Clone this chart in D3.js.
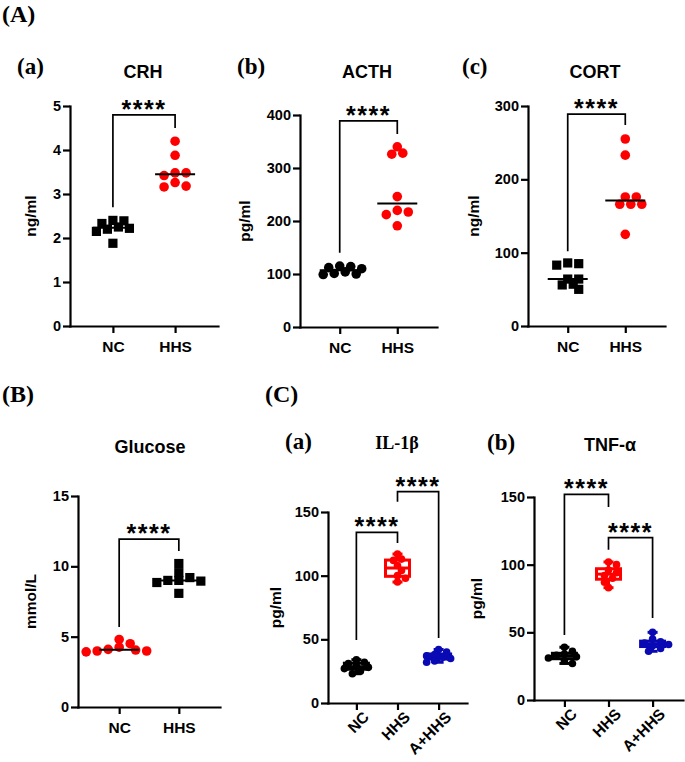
<!DOCTYPE html>
<html>
<head>
<meta charset="utf-8">
<script src="https://cdn.jsdelivr.net/npm/d3@7"></script>
<style>
  body { margin: 0; background: #fff; }
  text { font-family: "Liberation Sans", Arial, sans-serif; font-weight: 700; fill: #000; }
  .serif { font-family: "Liberation Serif", "Times New Roman", serif; }
</style>
</head>
<body>
<svg id="fig" width="685" height="762"></svg>
<script>
// ---- data ----
const groups2 = ["NC", "HHS"];
const groups3 = ["NC", "HHS", "A+HHS"];

const crhNC = [2.39, 2.33, 2.15, 1.88, 2.22, 2.2, 2.25, 2.4];
const crhHHS = [4.2, 3.88, 3.48, 3.48, 3.42, 3.26, 3.16, 3.18];

const acthNC = [100, 112, 115, 104, 99, 114, 101, 110];
const acthHHS = [340, 326, 328, 246, 220, 212, 217, 191];

const cortNC = [83, 86, 85, 64, 64, 56, 57, 50];
const cortHHS = [255, 233, 176, 176, 166, 166, 166, 125];

const gluNC = [4.8, 4.5, 4.25, 4.05, 3.92, 4.1, 3.98, 3.98];
const gluHHS = [10.2, 9.55, 9.2, 9.0, 9.0, 8.95, 8.85, 8.08];

const il1bNC = [34, 32, 31, 29, 28, 27, 25, 23];
const il1bHHS = [117, 113, 112, 108, 104, 100, 98, 95];
const il1bAHHS = [42, 40, 38, 37, 36, 35, 33, 32];

const tnfNC = [39, 36, 34, 33, 32, 31, 29, 27];
const tnfHHS = [102, 100, 96, 94, 92, 90, 87, 83];
const tnfAHHS = [50, 45, 43, 42, 41, 40, 38, 36];

const RED = "#ff0000", BLACK = "#000000", BLUE = "#0a0ab4";

// ---- panel layout ----
const panels = [
  { title: "CRH", letter: "(a)", letterX: 17, titleX: 143, titleY: 78, letterY: 74,
    ylabel: "ng/ml", ylabelX: 36, x0: 70, x1: 218, yb: 326, yt: 106, max: 5, ticks: [0,1,2,3,4,5],
    type: "dot", groups: groups2, values: [crhNC, crhHHS], colors: [BLACK, RED], shapes: ["square", "circle"],
    brackets: [{ a: 0, b: 1, top: 4.8, la: 2.7, lb: 4.5 }] },
  { title: "ACTH", letter: "(b)", letterX: 237, titleX: 367, titleY: 78, letterY: 74,
    ylabel: "pg/ml", ylabelX: 250, x0: 300, x1: 437, yb: 327, yt: 115, max: 400, ticks: [0,100,200,300,400],
    type: "dot", groups: groups2, values: [acthNC, acthHHS], colors: [BLACK, RED], shapes: ["circle", "circle"],
    brackets: [{ a: 0, b: 1, top: 389, la: 140, lb: 364 }] },
  { title: "CORT", letter: "(c)", letterX: 462, titleX: 595, titleY: 78, letterY: 74,
    ylabel: "ng/ml", ylabelX: 479, x0: 528, x1: 665, yb: 326, yt: 106, max: 300, ticks: [0,100,200,300],
    type: "dot", groups: groups2, values: [cortNC, cortHHS], colors: [BLACK, RED], shapes: ["square", "circle"],
    brackets: [{ a: 0, b: 1, top: 289, la: 102, lb: 274 }] },
  { title: "Glucose", letter: null, titleX: 150, titleY: 453,
    ylabel: "mmol/L", ylabelX: 36, x0: 78, x1: 220, yb: 707, yt: 496, max: 15, ticks: [0,5,10,15],
    type: "dot", groups: groups2, values: [gluNC, gluHHS], colors: [RED, BLACK], shapes: ["circle", "square"],
    brackets: [{ a: 0, b: 1, top: 11.94, la: 5.69, lb: 11.09 }] },
  { title: "IL-1β", serifTitle: true, letter: "(a)", letterX: 285, titleX: 397, titleY: 449, letterY: 449,
    ylabel: "pg/ml", ylabelX: 281, x0: 328, x1: 467, yb: 703, yt: 512, max: 150, ticks: [0,50,100,150],
    type: "box", groups: groups3, values: [il1bNC, il1bHHS, il1bAHHS], colors: [BLACK, RED, BLUE],
    brackets: [{ a: 0, b: 1, top: 134, la: 49.5, lb: 125.6 }, { a: 1, b: 2, top: 166, la: 158, lb: 51 }] },
  { title: "TNF-α", letter: "(b)", letterX: 487, titleX: 610, titleY: 451, letterY: 450,
    ylabel: "pg/ml", ylabelX: 482, x0: 534, x1: 683, yb: 700, yt: 497, max: 150, ticks: [0,50,100,150],
    type: "box", groups: groups3, values: [tnfNC, tnfHHS, tnfAHHS], colors: [BLACK, RED, BLUE],
    brackets: [{ a: 0, b: 1, top: 152, la: 48, lb: 142.6 }, { a: 1, b: 2, top: 120, la: 111, lb: 60.6 }] }
];

const svg = d3.select("#fig");
svg.append("rect").attr("width", 685).attr("height", 762).attr("fill", "#fff");

// section letters
[["(A)", 2, 22], ["(B)", 2, 402], ["(C)", 265, 402]].forEach(([t, x, y]) => {
  svg.append("text").attr("class", "serif").attr("x", x).attr("y", y)
    .attr("font-size", 24).attr("fill", "#141428").text(t);
});

// greedy beeswarm: offsets in pixels
function dodge(vals, y, step, minDist) {
  const placed = [], out = new Array(vals.length);
  const order = vals.map((v, i) => i).sort((a, b) => vals[b] - vals[a]);
  order.forEach(i => {
    const py = y(vals[i]);
    for (let k = 0; k < 40; k++) {
      const dx = k === 0 ? 0 : (k % 2 ? 1 : -1) * Math.ceil(k / 2) * step;
      if (placed.every(p => Math.hypot(p.dx - dx, p.py - py) >= minDist)) {
        placed.push({ dx, py }); out[i] = { v: vals[i], dx }; break;
      }
    }
  });
  return out;
}

panels.forEach(p => {
  const g = svg.append("g");
  const y = d3.scaleLinear().domain([0, p.max]).range([p.yb, p.yt]);
  const x = d3.scalePoint().domain(p.groups).range([p.x0, p.x1]).padding(0.69);

  // title and letter
  g.append("text").attr("x", p.titleX).attr("y", p.titleY).attr("text-anchor", "middle")
    .attr("class", p.serifTitle ? "serif" : null)
    .attr("font-size", 18).text(p.title);
  if (p.letter) {
    g.append("text").attr("class", "serif").attr("x", p.letterX).attr("y", p.letterY)
      .attr("font-size", 23).attr("fill", "#141428").text(p.letter);
  }

  // axes
  const ya = g.append("g").attr("transform", `translate(${p.x0},0)`)
    .call(d3.axisLeft(y).tickValues(p.ticks).tickFormat(d3.format("d"))
      .tickSize(7).tickSizeOuter(0).tickPadding(2));
  ya.selectAll("text").attr("font-size", 14.5).attr("font-family", null);
  const xa = g.append("g").attr("transform", `translate(0,${p.yb})`)
    .call(d3.axisBottom(x).tickSize(7).tickSizeOuter(0).tickPadding(p.type === "box" ? 4 : 8));
  xa.selectAll("text").attr("font-size", 15.5).attr("font-family", null);
  if (p.type === "box") {
    xa.selectAll("text").attr("text-anchor", "end").attr("dy", "0.35em")
      .attr("transform", "translate(5,7) rotate(-45)").attr("y", 6).attr("x", 0);
  }
  g.selectAll(".domain, .tick line").attr("stroke", "#000").attr("stroke-width", 2.2);
  g.selectAll(".domain").attr("stroke-linecap", "square");

  // y label
  g.append("text").attr("transform", `translate(${p.ylabelX},${(p.yb + p.yt) / 2}) rotate(-90)`)
    .attr("text-anchor", "middle").attr("font-size", 15.5).text(p.ylabel);

  // data
  p.groups.forEach((grp, gi) => {
    const vals = p.values[gi], col = p.colors[gi], cx = x(grp);
    if (p.type === "dot") {
      const pts = dodge(vals, y, 5.5, 7.5);
      const med = d3.median(vals);
      pts.forEach(d => {
        if (p.shapes[gi] === "square") {
          g.append("rect").attr("x", cx + d.dx - 4.6).attr("y", y(d.v) - 4.6)
            .attr("width", 9.2).attr("height", 9.2).attr("fill", col);
        } else {
          g.append("circle").attr("cx", cx + d.dx).attr("cy", y(d.v)).attr("r", 4.8).attr("fill", col);
        }
      });
      g.append("line").attr("x1", cx - 20).attr("x2", cx + 20)
        .attr("y1", y(med)).attr("y2", y(med)).attr("stroke", "#000").attr("stroke-width", 2);
    } else {
      const s = vals.slice().sort(d3.ascending);
      const q1 = d3.quantile(s, 0.25), q3 = d3.quantile(s, 0.75), med = d3.median(s);
      const lo = s[0], hi = s[s.length - 1], hw = 12;
      const bg = g.append("g").attr("stroke", col).attr("stroke-width", 3).attr("fill", "none");
      bg.append("line").attr("x1", cx).attr("x2", cx).attr("y1", y(hi)).attr("y2", y(q3));
      bg.append("line").attr("x1", cx).attr("x2", cx).attr("y1", y(q1)).attr("y2", y(lo));
      bg.append("line").attr("x1", cx - 5).attr("x2", cx + 5).attr("y1", y(hi)).attr("y2", y(hi));
      bg.append("line").attr("x1", cx - 5).attr("x2", cx + 5).attr("y1", y(lo)).attr("y2", y(lo));
      bg.append("rect").attr("x", cx - hw).attr("y", y(q3)).attr("width", 2 * hw).attr("height", y(q1) - y(q3));
      bg.append("line").attr("x1", cx - hw).attr("x2", cx + hw).attr("y1", y(med)).attr("y2", y(med));
      const pts = dodge(vals, y, 4, 6);
      pts.forEach(d => {
        g.append("circle").attr("cx", cx + d.dx).attr("cy", y(d.v)).attr("r", 3.8).attr("fill", col);
      });
    }
  });

  // significance brackets
  p.brackets.forEach(b => {
    const xa_ = x(p.groups[b.a]), xb_ = x(p.groups[b.b]);
    g.append("path").attr("fill", "none").attr("stroke", "#000").attr("stroke-width", 1.7)
      .attr("d", `M${xa_},${y(b.la)}V${y(b.top)}H${xb_}V${y(b.lb)}`);
    g.append("text").attr("x", (xa_ + xb_) / 2).attr("y", y(b.top) + 3).attr("text-anchor", "middle")
      .attr("font-size", 25).attr("letter-spacing", 1.5).text("****");
  });
});
</script>
</body>
</html>
